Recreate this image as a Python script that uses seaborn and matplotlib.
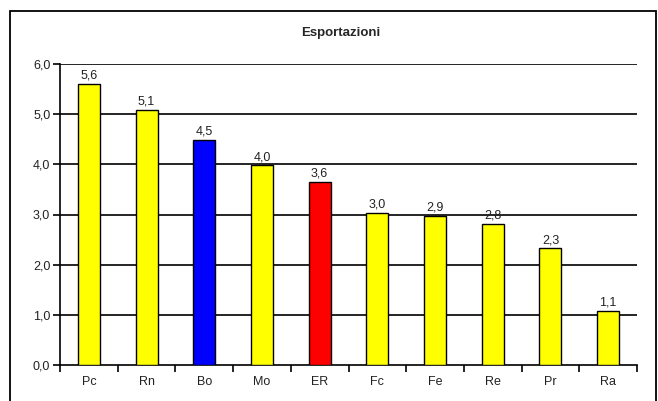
import numpy as np
import pandas as pd
import matplotlib
matplotlib.use("Agg")
import matplotlib.pyplot as plt
import seaborn as sns
from matplotlib.patches import Rectangle

# DATA
categories = ["Pc", "Rn", "Bo", "Mo", "ER", "Fc", "Fe", "Re", "Pr", "Ra"]
values = [5.61, 5.09, 4.49, 3.98, 3.65, 3.03, 2.97, 2.82, 2.33, 1.08]
value_labels = ["5,6", "5,1", "4,5", "4,0", "3,6", "3,0", "2,9", "2,8", "2,3", "1,1"]
bar_colors = ["#FFFF00", "#FFFF00", "#0000FF", "#FFFF00", "#FF0000",
              "#FFFF00", "#FFFF00", "#FFFF00", "#FFFF00", "#FFFF00"]
y_ticks = [0, 1, 2, 3, 4, 5, 6]
y_tick_labels = ["0,0", "1,0", "2,0", "3,0", "4,0", "5,0", "6,0"]

sns.set_style("white")
plt.rcParams["font.family"] = ["Liberation Sans", "DejaVu Sans"]

df = pd.DataFrame({"cat": categories, "val": values})

fig = plt.figure(figsize=(6.58, 4.01), dpi=100)
ax = fig.add_axes([60 / 658, 36 / 401, 577 / 658, 301 / 401])

sns.barplot(data=df, x="cat", y="val", hue="cat", palette=bar_colors,
            legend=False, width=0.38, edgecolor="black", linewidth=1.0,
            saturation=1, ax=ax, zorder=3)

# horizontal grid
for yv in y_ticks[1:]:
    ax.axhline(yv, color="black", lw=1.2, zorder=1)

ax.set_ylim(0, 6)
ax.set_xlim(-0.5, len(categories) - 0.5)
ax.set_yticks(y_ticks)
ax.set_yticklabels(y_tick_labels, fontsize=9, color="#222222")
ax.set_xlabel("")
ax.set_ylabel("")
ax.tick_params(axis="x", which="major", bottom=True, length=0, labelsize=9, pad=8,
               labelcolor="#222222")
ax.set_xticks(np.arange(-0.5, len(categories)), minor=True)
ax.tick_params(axis="x", which="minor", bottom=True, length=5, width=1.2,
               direction="out", color="black")
ax.tick_params(axis="y", which="major", left=True, length=5, width=1.2,
               direction="out", color="black", pad=2)

for s in ["top", "right"]:
    ax.spines[s].set_visible(False)
for s in ["left", "bottom"]:
    ax.spines[s].set_color("black")
    ax.spines[s].set_linewidth(1.2)

for i, (v, lab) in enumerate(zip(values, value_labels)):
    ax.text(i, v + 0.04, lab, ha="center", va="bottom", fontsize=9, color="#222222", zorder=4)

fig.text(341 / 658, 1 - 33 / 401, "Esportazioni", ha="center", va="center",
         fontsize=9.5, fontweight="bold")

# outer frame
fig.patches.append(Rectangle((10 / 658, -0.05), 646 / 658, 1.05 - 11 / 401,
                             transform=fig.transFigure, fill=False,
                             edgecolor="black", lw=1.3))

fig.savefig("out.png", dpi=100)
